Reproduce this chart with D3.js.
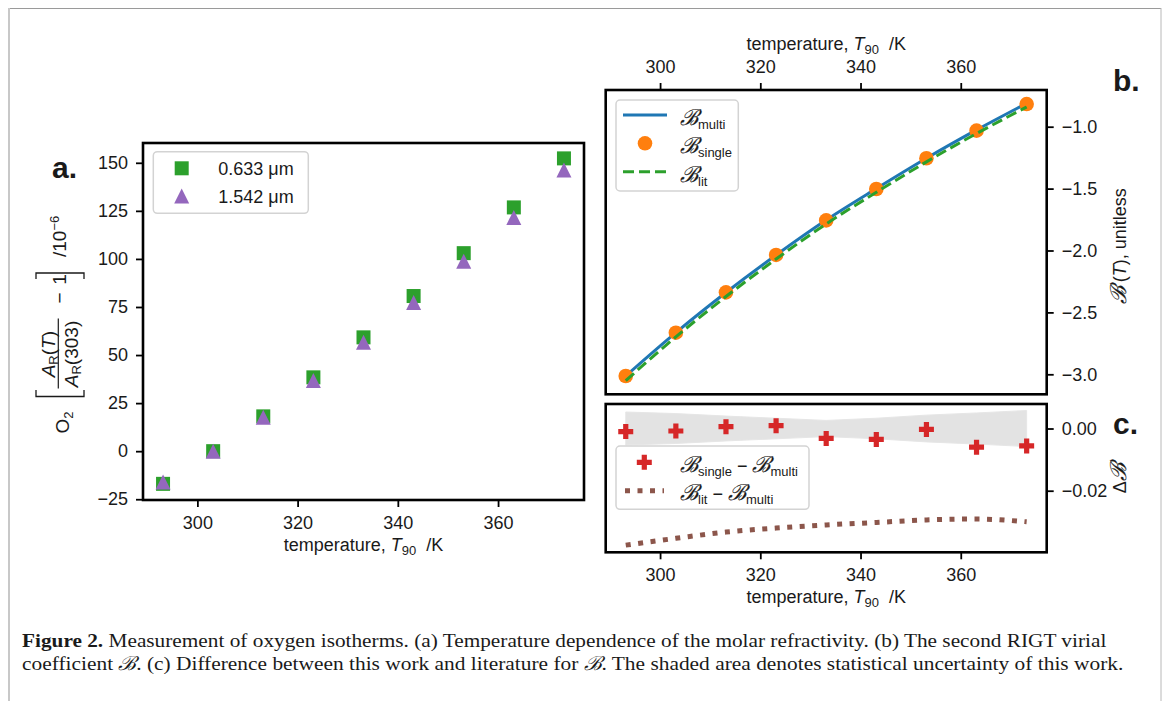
<!DOCTYPE html>
<html><head><meta charset="utf-8">
<script src="https://cdn.jsdelivr.net/npm/d3@7"></script>
<style>
body{margin:0;background:#fff}
svg{display:block}
text{font-family:"Liberation Sans",Arial,sans-serif;fill:#1a1a1a}
.cal{font-family:"DejaVu Serif",serif;font-style:italic;font-size:22px;stroke:#1a1a1a;stroke-width:0.2px}
</style>
</head><body>
<svg id="chart" width="1166" height="701"></svg>
<script>
// ---------------- data ----------------
const temps   = [293.15, 303.15, 313.15, 323.15, 333.15, 343.15, 353.15, 363.15, 373.15];
const ar633   = [-17.0, 0.0, 18.1, 38.4, 59.2, 80.7, 103.0, 126.8, 152.3];
const ar1542  = [-16.1, 0.0, 17.7, 36.8, 56.6, 77.3, 98.8, 121.6, 146.2];
const bMulti  = [-3.013, -2.663, -2.339, -2.037, -1.754, -1.500, -1.255, -1.026, -0.811];
const bSingle = [-3.014, -2.664, -2.338, -2.036, -1.757, -1.503, -1.255, -1.032, -0.817];
const bLit    = [-3.051, -2.698, -2.372, -2.069, -1.785, -1.530, -1.284, -1.055, -0.841];
const dSingle = [-0.0010, -0.0008, 0.0006, 0.0009, -0.0032, -0.0035, -0.0003, -0.0060, -0.0056];
const dLit    = [-0.0375, -0.0353, -0.0333, -0.0320, -0.0310, -0.0302, -0.0294, -0.0291, -0.0300];
const uMulti  = [0.0053, 0.0048, 0.0040, 0.0033, 0.0026, 0.0033, 0.0043, 0.0050, 0.0058];

const xTicks  = [300, 320, 340, 360];
const yTicksA = [-25, 0, 25, 50, 75, 100, 125, 150];
const yTicksB = [-3.0, -2.5, -2.0, -1.5, -1.0];
const yTicksC = [-0.02, 0.00];
const legendA = ["0.633 μm", "1.542 μm"];
const legendB = ["multi", "single", "lit"];

const C = {green:"#2ca02c", purple:"#9467bd", blue:"#1f77b4", orange:"#ff7f0e", red:"#d62728", brown:"#8c564b"};

// ---------------- layout ----------------
const svg = d3.select("#chart");
const FS = 18;

svg.append("line").attr("x1",8).attr("x2",1161).attr("y1",8.5).attr("y2",8.5).attr("stroke","#9a9a9a").attr("stroke-width",1);
svg.append("line").attr("x1",9).attr("x2",9).attr("y1",8).attr("y2",701).attr("stroke","#c8c8c8").attr("stroke-width",2);
svg.append("line").attr("x1",1161).attr("x2",1161).attr("y1",8).attr("y2",701).attr("stroke","#b8b8b8").attr("stroke-width",1);

const A = {l:143, r:584, t:143, b:500};
const B = {l:605.7, r:1046.7, t:90, b:394.3};
const Cc = {l:605.7, r:1046.7, t:404, b:552.3};

const xA = d3.scaleLinear([289.15, 377.15], [A.l, A.r]);
const yA = d3.scaleLinear([-25.4, 160.3], [A.b, A.t]);
const xB = d3.scaleLinear([289.15, 377.15], [B.l, B.r]);
const yB = d3.scaleLinear([-3.1616, -0.7035], [B.b, B.t]);
const yC = d3.scaleLinear([-0.0398, 0.00788], [Cc.b, Cc.t]);

function styleAxis(g){
  g.select(".domain").remove();
  g.attr("font-size", FS).attr("font-family", '"Liberation Sans",Arial,sans-serif');
  g.selectAll(".tick line").attr("stroke","#000").attr("stroke-width",1.8);
  g.selectAll(".tick text").attr("fill","#1a1a1a");
}

// ---------- Panel a ----------
const gA = svg.append("g");
gA.append("g").attr("transform",`translate(0,${A.b})`)
  .call(d3.axisBottom(xA).tickValues(xTicks).tickSize(7).tickPadding(9).tickFormat(d3.format("d"))).call(styleAxis);
gA.append("g").attr("transform",`translate(${A.l},0)`)
  .call(d3.axisLeft(yA).tickValues(yTicksA).tickSize(7).tickPadding(8).tickFormat(d3.format("d"))).call(styleAxis);

const sq = 7;
gA.append("g").selectAll("rect").data(temps).join("rect")
  .attr("x", d=>xA(d)-sq).attr("y",(d,i)=>yA(ar633[i])-sq).attr("width",2*sq).attr("height",2*sq).attr("fill",C.green);
const tri = r => `M0,${-r}L${r},${r}L${-r},${r}Z`;
gA.append("g").selectAll("path").data(temps).join("path")
  .attr("transform",(d,i)=>`translate(${xA(d)},${yA(ar1542[i])})`).attr("d",tri(7.5)).attr("fill",C.purple);

gA.append("rect").attr("x",A.l).attr("y",A.t).attr("width",A.r-A.l).attr("height",A.b-A.t)
  .attr("fill","none").attr("stroke","#000").attr("stroke-width",2.6);

const lgA = gA.append("g");
lgA.append("rect").attr("x",153.3).attr("y",151.7).attr("width",155).attr("height",61.6).attr("rx",4)
  .attr("fill","#fff").attr("fill-opacity",0.8).attr("stroke","#d3d3d3").attr("stroke-width",1.5);
lgA.append("rect").attr("x",181.7-sq).attr("y",168.3-sq).attr("width",2*sq).attr("height",2*sq).attr("fill",C.green);
lgA.append("path").attr("transform","translate(181.7,196)").attr("d",tri(7.5)).attr("fill",C.purple);
legendA.forEach((t,i)=>{
  lgA.append("text").attr("x",218.3).attr("y",175+i*27.7).attr("font-size",FS).text(t);
});

function xLabel(g, cx, y){
  const t = g.append("text").attr("x",cx).attr("y",y).attr("text-anchor","middle").attr("font-size",FS);
  t.append("tspan").text("temperature, ");
  t.append("tspan").attr("font-style","italic").text("T");
  t.append("tspan").attr("font-size",13).attr("dy",4).text("90");
  t.append("tspan").attr("dy",-4).text("\u00a0\u00a0/K");
}
xLabel(gA, (A.l+A.r)/2, 551);

const yl = gA.append("g").attr("transform","translate(69,321.5) rotate(-90)");
{
  const F2 = 19;
  let t = yl.append("text").attr("x",-112).attr("y",0).attr("font-size",F2);
  t.append("tspan").text("O");
  t.append("tspan").attr("font-size",13).attr("dy",4).text("2");
  yl.append("path").attr("d","M-68.5,-33H-75V15H-68.5").attr("fill","none").attr("stroke","#1a1a1a").attr("stroke-width",1.3);
  let n = yl.append("text").attr("x",-32.7).attr("y",-14).attr("text-anchor","middle").attr("font-size",F2);
  n.append("tspan").attr("font-style","italic").text("A");
  n.append("tspan").attr("font-size",13).attr("dy",3).text("R");
  n.append("tspan").attr("dy",-3).text("(");
  n.append("tspan").attr("font-style","italic").text("T");
  n.append("tspan").text(")");
  yl.append("line").attr("x1",-67).attr("x2",3).attr("y1",-10.7).attr("y2",-10.7).attr("stroke","#1a1a1a").attr("stroke-width",1.2);
  let dn = yl.append("text").attr("x",-32.5).attr("y",9).attr("text-anchor","middle").attr("font-size",F2);
  dn.append("tspan").attr("font-style","italic").text("A");
  dn.append("tspan").attr("font-size",13).attr("dy",3).text("R");
  dn.append("tspan").attr("dy",-3).text("(303)");
  yl.append("text").attr("x",18).attr("y",-3).attr("font-size",F2).text("−\u2009\u20091");
  yl.append("path").attr("d","M42.5,-33H48.5V15H42.5").attr("fill","none").attr("stroke","#1a1a1a").attr("stroke-width",1.3);
  let s = yl.append("text").attr("x",64.5).attr("y",-3).attr("font-size",F2);
  s.append("tspan").text("/10");
  s.append("tspan").attr("font-size",13).attr("dy",-7).text("−6");
}
gA.append("text").attr("x",52).attr("y",178.3).attr("font-size",30).attr("font-weight","bold").text("a.");

// ---------- Panel b ----------
const gB = svg.append("g");
gB.append("g").attr("transform",`translate(0,${B.t})`)
  .call(d3.axisTop(xB).tickValues(xTicks).tickSize(7).tickPadding(10).tickFormat(d3.format("d"))).call(styleAxis);
gB.append("g").attr("transform",`translate(${B.r},0)`)
  .call(d3.axisRight(yB).tickValues(yTicksB).tickSize(7).tickPadding(8).tickFormat(d3.format(".1f"))).call(styleAxis);

const lineB = d3.line().x(d=>xB(d[0])).y(d=>yB(d[1])).curve(d3.curveMonotoneX);
gB.append("path").attr("d",lineB(temps.map((t,i)=>[t,bMulti[i]]))).attr("fill","none").attr("stroke",C.blue).attr("stroke-width",3);
gB.append("g").selectAll("circle").data(temps).join("circle")
  .attr("cx",d=>xB(d)).attr("cy",(d,i)=>yB(bSingle[i])).attr("r",7.3).attr("fill",C.orange);
gB.append("path").attr("d",lineB(temps.map((t,i)=>[t,bLit[i]]))).attr("fill","none").attr("stroke",C.green)
  .attr("stroke-width",3).attr("stroke-dasharray","11,5");

gB.append("rect").attr("x",B.l).attr("y",B.t).attr("width",B.r-B.l).attr("height",B.b-B.t)
  .attr("fill","none").attr("stroke","#000").attr("stroke-width",2.6);

function calLabel(g, x, y, parts){
  const t = g.append("text").attr("x",x).attr("y",y).attr("font-size",FS);
  let dy = 0;
  parts.forEach(p=>{
    if(p.cal){ t.append("tspan").attr("class","cal").attr("dy",-dy).text("ℬ"); dy=0; }
    else if(p.sub){ t.append("tspan").attr("font-size",13).attr("dy",4-dy).text(p.sub); dy=4; }
    else { t.append("tspan").attr("dy",-dy).text(p.txt); dy=0; }
  });
  return t;
}

const lgB = gB.append("g");
lgB.append("rect").attr("x",616).attr("y",100).attr("width",122.3).attr("height",91).attr("rx",4)
  .attr("fill","#fff").attr("fill-opacity",0.8).attr("stroke","#d3d3d3").attr("stroke-width",1.5);
lgB.append("line").attr("x1",623).attr("x2",667).attr("y1",115).attr("y2",115).attr("stroke",C.blue).attr("stroke-width",3);
lgB.append("circle").attr("cx",645).attr("cy",143.3).attr("r",7.3).attr("fill",C.orange);
lgB.append("line").attr("x1",623).attr("x2",667).attr("y1",171.7).attr("y2",171.7).attr("stroke",C.green).attr("stroke-width",3).attr("stroke-dasharray","11,5");
legendB.forEach((s,i)=> calLabel(lgB, 680, 125+i*28.3, [{cal:true},{sub:s}]));

xLabel(gB, (B.l+B.r)/2, 50);
{
  const t = gB.append("text").attr("transform",`translate(1126,${(B.t+B.b)/2+4}) rotate(-90)`).attr("text-anchor","middle").attr("font-size",FS);
  t.append("tspan").attr("class","cal").text("ℬ");
  t.append("tspan").text("\u2009(");
  t.append("tspan").attr("font-style","italic").text("T");
  t.append("tspan").text("), unitless");
}
gB.append("text").attr("x",1113).attr("y",91).attr("font-size",30).attr("font-weight","bold").text("b.");

// ---------- Panel c ----------
const gC = svg.append("g");
gC.append("g").attr("transform",`translate(0,${Cc.b})`)
  .call(d3.axisBottom(xB).tickValues(xTicks).tickSize(7).tickPadding(9).tickFormat(d3.format("d"))).call(styleAxis);
gC.append("g").attr("transform",`translate(${Cc.r},0)`)
  .call(d3.axisRight(yC).tickValues(yTicksC).tickSize(7).tickPadding(8).tickFormat(d3.format(".2f"))).call(styleAxis);

const area = d3.area().x(d=>xB(d[0])).y0(d=>yC(-d[1])).y1(d=>yC(d[1]));
gC.append("path").attr("d",area(temps.map((t,i)=>[t,uMulti[i]]))).attr("fill","#e3e3e3").attr("stroke","#e6e6e6").attr("stroke-width",1);

const plus = (r,w) => `M${-w},${-r}H${w}V${-w}H${r}V${w}H${w}V${r}H${-w}V${w}H${-r}V${-w}H${-w}Z`;
gC.append("g").selectAll("path").data(temps).join("path")
  .attr("transform",(d,i)=>`translate(${xB(d)},${yC(dSingle[i])})`).attr("d",plus(7.5,2.6)).attr("fill",C.red);

const lineC = d3.line().x(d=>xB(d[0])).y(d=>yC(d[1])).curve(d3.curveMonotoneX);
gC.append("path").attr("d",lineC(temps.map((t,i)=>[t,dLit[i]]))).attr("fill","none").attr("stroke",C.brown)
  .attr("stroke-width",5).attr("stroke-dasharray","5,7.5");

gC.append("rect").attr("x",Cc.l).attr("y",Cc.t).attr("width",Cc.r-Cc.l).attr("height",Cc.b-Cc.t)
  .attr("fill","none").attr("stroke","#000").attr("stroke-width",2.6);

const lgC = gC.append("g");
lgC.append("rect").attr("x",616).attr("y",446).attr("width",193).attr("height",63.3).attr("rx",4)
  .attr("fill","#fff").attr("fill-opacity",0.8).attr("stroke","#d3d3d3").attr("stroke-width",1.5);
lgC.append("path").attr("transform","translate(644.3,462.3)").attr("d",plus(7.5,2.6)).attr("fill",C.red);
lgC.append("line").attr("x1",625).attr("x2",664).attr("y1",490.7).attr("y2",490.7).attr("stroke",C.brown).attr("stroke-width",5).attr("stroke-dasharray","5,7.5");
calLabel(lgC, 680, 471.7, [{cal:true},{sub:"single"},{txt:" − "},{cal:true},{sub:"multi"}]);
calLabel(lgC, 680, 500, [{cal:true},{sub:"lit"},{txt:" − "},{cal:true},{sub:"multi"}]);

xLabel(gC, (Cc.l+Cc.r)/2, 603);
{
  const t = gC.append("text").attr("transform",`translate(1126,${(Cc.t+Cc.b)/2}) rotate(-90)`).attr("text-anchor","middle").attr("font-size",FS);
  t.append("tspan").text("Δ");
  t.append("tspan").attr("class","cal").text("ℬ");
}
gC.append("text").attr("x",1113).attr("y",434).attr("font-size",30).attr("font-weight","bold").text("c.");

// ---------- caption ----------
const capFont = '"Liberation Serif","Times New Roman",serif';
function capLine(y, width, build){
  const t = svg.append("text").attr("x",0).attr("y",0).attr("font-size",19.5).style("font-family",capFont);
  build(t);
  const w = t.node().getComputedTextLength();
  t.attr("transform",`translate(22,${y}) scale(${width/w},1)`);
}
capLine(647, 1085, t=>{
  t.append("tspan").attr("font-weight","bold").text("Figure 2.");
  t.append("tspan").text(" Measurement of oxygen isotherms. (a) Temperature dependence of the molar refractivity. (b) The second RIGT virial");
});
capLine(670, 1101, t=>{
  t.append("tspan").text("coefficient ");
  t.append("tspan").attr("font-style","italic").text("ℬ");
  t.append("tspan").text(". (c) Difference between this work and literature for ");
  t.append("tspan").attr("font-style","italic").text("ℬ");
  t.append("tspan").text(". The shaded area denotes statistical uncertainty of this work.");
});
</script>
</body></html>
